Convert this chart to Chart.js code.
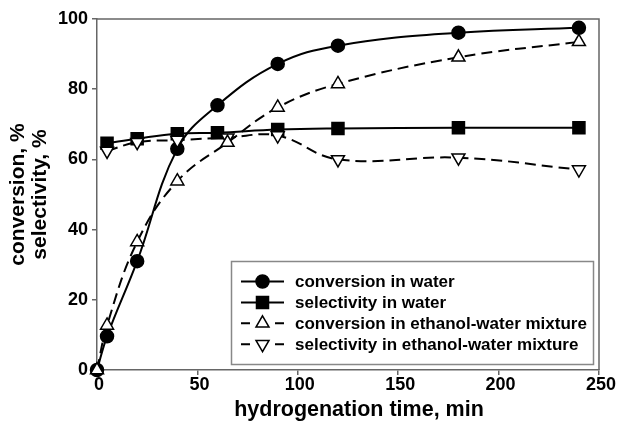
<!DOCTYPE html>
<html>
<head>
<meta charset="utf-8">
<script src="https://cdn.jsdelivr.net/npm/chart.js@4/dist/chart.umd.min.js"></script>
<style>
  html, body { margin: 0; padding: 0; background: #fff; }
  #wrap { width: 619px; height: 422px; }
</style>
</head>
<body>
<div id="wrap"><canvas id="c" width="619" height="422"></canvas></div>
<script>
// Hydrogenation time (min) for each series
const timeConvWater = [0, 5, 20, 40, 60, 90, 120, 180, 240];
const timeSelWater  = [5, 20, 40, 60, 90, 120, 180, 240];
const timeConvEth   = [0, 5, 20, 40, 65, 90, 120, 180, 240];
const timeSelEth    = [5, 20, 40, 65, 90, 120, 180, 240];

// Conversion / selectivity, %
const convWater = [0, 9.6, 31.0, 63.0, 75.4, 87.2, 92.4, 96.1, 97.5];
const selWater  = [64.6, 65.9, 67.3, 67.6, 68.5, 68.8, 69.0, 69.0];
const convEth   = [0, 12.7, 36.5, 53.8, 64.8, 74.8, 81.5, 89.1, 93.5];
const selEth    = [62.4, 64.9, 65.5, 66.2, 66.8, 60.0, 60.5, 57.1];

const seriesNames = [
  'conversion in water',
  'selectivity in water',
  'conversion in ethanol-water mixture',
  'selectivity in ethanol-water mixture'
];

const xTicks = [0, 50, 100, 150, 200, 250];
const yTicks = [0, 20, 40, 60, 80, 100];
const xTitle = 'hydrogenation time, min';
const yTitle = ['conversion, %', 'selectivity, %'];

const FONT = '"Liberation Sans", Arial, Helvetica, sans-serif';
const AXIS_GREY = '#666';

function pts(xs, ys) { return xs.map((x, i) => ({ x: x, y: ys[i] })); }

const markerStyle = [
  { style: 'circle',   radius: 6.5, fill: '#000', dash: [] },
  { style: 'rect',     radius: 8.5, fill: '#000', dash: [] },
  { style: 'triangle', radius: 7.5, fill: '#fff', dash: [11, 6], rot: 0 },
  { style: 'triangle', radius: 7.5, fill: '#fff', dash: [11, 6], rot: 180 }
];

function makeDataset(i, data, order) {
  const m = markerStyle[i];
  return {
    label: seriesNames[i],
    data: data,
    order: order,
    borderColor: '#000',
    borderWidth: 2,
    borderDash: m.dash,
    tension: 0.4,
    fill: false,
    clip: false,
    pointStyle: m.style,
    pointRotation: m.rot || 0,
    pointRadius: m.radius,
    pointBackgroundColor: m.fill,
    pointBorderColor: '#000',
    pointBorderWidth: 1.5
  };
}

// draws one marker shape for the legend
function drawMarker(ctx, m, x, y) {
  ctx.save();
  ctx.beginPath();
  const r = m.radius;
  if (m.style === 'circle') {
    ctx.arc(x, y, r, 0, Math.PI * 2);
  } else if (m.style === 'rect') {
    const s = r * Math.SQRT1_2;
    ctx.rect(x - s, y - s, 2 * s, 2 * s);
  } else {
    const rad = (m.rot || 0) * Math.PI / 180;
    for (let k = 0; k < 3; k++) {
      const a = rad + k * 2 * Math.PI / 3;
      const px = x + Math.sin(a) * r, py = y - Math.cos(a) * r;
      if (k === 0) ctx.moveTo(px, py); else ctx.lineTo(px, py);
    }
    ctx.closePath();
  }
  ctx.fillStyle = m.fill;
  ctx.fill();
  ctx.lineWidth = 1.5;
  ctx.strokeStyle = '#000';
  ctx.stroke();
  ctx.restore();
}

const framePlugin = {
  id: 'frame',
  beforeDatasetsDraw(chart) {
    const { ctx, chartArea: ca } = chart;
    ctx.save();
    // top and right frame lines
    ctx.strokeStyle = AXIS_GREY;
    ctx.lineWidth = 1.5;
    ctx.beginPath();
    ctx.moveTo(ca.left, ca.top);
    ctx.lineTo(ca.right, ca.top);
    ctx.lineTo(ca.right, ca.bottom);
    ctx.stroke();
    ctx.restore();
  },
  afterDraw(chart) {
    const ctx = chart.ctx;
    ctx.save();

    // time-axis title, sitting slightly right of the plot centre
    ctx.font = 'bold 21.5px ' + FONT;
    ctx.fillStyle = '#000';
    ctx.textAlign = 'center';
    ctx.textBaseline = 'alphabetic';
    ctx.fillText(xTitle, chart.chartArea.left + 262, 416);

    // boxed legend in the lower right of the plot
    const box = { left: 231, top: 261, right: 593, bottom: 364 };
    ctx.fillStyle = '#fff';
    ctx.fillRect(box.left, box.top, box.right - box.left, box.bottom - box.top);
    ctx.strokeStyle = '#888';
    ctx.lineWidth = 1.5;
    ctx.strokeRect(box.left + 0.5, box.top + 0.5, box.right - box.left, box.bottom - box.top);
    const lineL = 241, lineR = 284, mx = 262.5, textX = 295;
    ctx.font = 'bold 17px ' + FONT;
    ctx.textBaseline = 'middle';
    ctx.textAlign = 'left';
    seriesNames.forEach((name, i) => {
      const y = 281.5 + i * 20.9;
      const m = markerStyle[i];
      ctx.strokeStyle = '#000';
      ctx.lineWidth = 2;
      ctx.beginPath();
      if (m.dash.length) {
        ctx.moveTo(lineL, y); ctx.lineTo(lineL + 9, y);
        ctx.moveTo(lineR - 9, y); ctx.lineTo(lineR, y);
      } else {
        ctx.moveTo(lineL, y); ctx.lineTo(lineR, y);
      }
      ctx.stroke();
      drawMarker(ctx, m, mx, y);
      ctx.fillStyle = '#000';
      ctx.fillText(name, textX, y + 1);
    });
    ctx.restore();
  }
};

new Chart(document.getElementById('c'), {
  type: 'line',
  data: {
    datasets: [
      makeDataset(0, pts(timeConvWater, convWater), 4),
      makeDataset(1, pts(timeSelWater, selWater), 3),
      makeDataset(2, pts(timeConvEth, convEth), 1),
      makeDataset(3, pts(timeSelEth, selEth), 2)
    ]
  },
  options: {
    responsive: false,
    animation: false,
    devicePixelRatio: 1,
    layout: { padding: { left: 0, right: 20, top: 19, bottom: 0 } },
    plugins: { legend: { display: false }, tooltip: { enabled: false } },
    scales: {
      x: {
        type: 'linear',
        min: 0, max: 250,
        afterBuildTicks: s => { s.ticks = xTicks.map(v => ({ value: v })); },
        afterFit: s => { s.height = 52; },
        grid: { display: true, drawOnChartArea: false, drawTicks: true, tickLength: 5, color: AXIS_GREY, lineWidth: 1.5 },
        border: { display: true, color: AXIS_GREY, width: 1.5 },
        ticks: { color: '#000', padding: -1, labelOffset: 2, maxRotation: 0, font: { family: FONT, size: 18, weight: 'bold' } },
        title: { display: false }
      },
      y: {
        type: 'linear',
        min: 0, max: 100,
        afterBuildTicks: s => { s.ticks = yTicks.map(v => ({ value: v })); },
        afterFit: s => { s.width = 97; },
        grid: { display: true, drawOnChartArea: false, drawTicks: true, tickLength: 5, color: AXIS_GREY, lineWidth: 1.5 },
        border: { display: true, color: AXIS_GREY, width: 1.5 },
        ticks: { color: '#000', padding: 4, font: { family: FONT, size: 18, weight: 'bold' } },
        title: {
          display: true, text: yTitle, color: '#000',
          font: { family: FONT, size: 21, weight: 'bold', lineHeight: 1.05 },
          padding: { top: 7, bottom: 0 }
        }
      }
    }
  },
  plugins: [framePlugin]
});
</script>
</body>
</html>
